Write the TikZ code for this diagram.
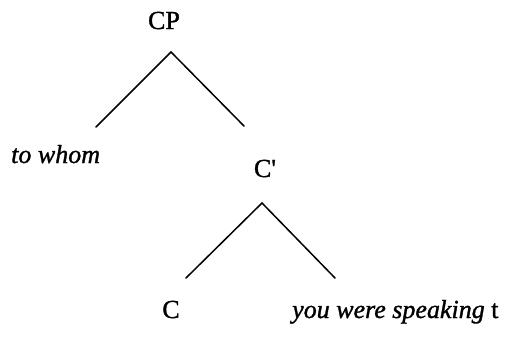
\documentclass[tikz,border=0pt]{standalone}
\usepackage{fontspec}
\setmainfont[FakeBold=1.2]{Liberation Serif}
\begin{document}
\begin{tikzpicture}[x=1pt,y=-1pt,
  lbl/.style={inner sep=0pt,font=\fontsize{26}{30}\selectfont},
  br/.style={line width=1.5pt,line cap=round,line join=miter}]
\useasboundingbox (0,0) rectangle (507,341);
\node[lbl,anchor=base] (cp) at (164,29) {CP};
\coordinate (a1) at (171,52);
\coordinate (l1) at (96,127);
\coordinate (r1) at (244,126);
\draw[br] (l1) -- (a1) -- (r1);
\node[lbl,anchor=base west] (tw) at (11,163) {\textit{to whom}};
\node[lbl,anchor=base] (cbar) at (265,177) {C\textquotesingle};
\coordinate (a2) at (262,203);
\coordinate (l2) at (186,278);
\coordinate (r2) at (335,278);
\draw[br] (l2) -- (a2) -- (r2);
\node[lbl,anchor=base] (c) at (171,318) {C};
\node[lbl,anchor=base west] (yw) at (292,318) {\textit{you were speaking} t};
\end{tikzpicture}
\end{document}
